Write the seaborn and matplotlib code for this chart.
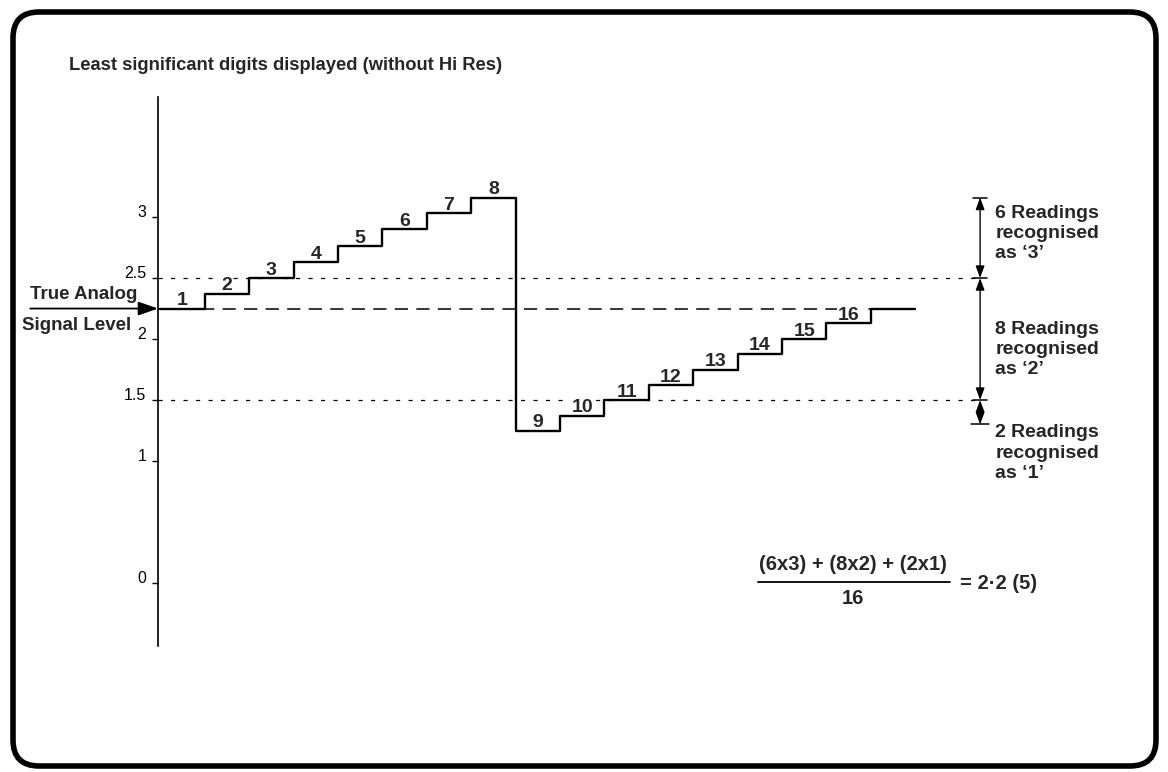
import numpy as np
import pandas as pd
import matplotlib
matplotlib.use('Agg')
import matplotlib.pyplot as plt
from matplotlib.patches import FancyBboxPatch
import seaborn as sns

# readings 1..16 and the level each one sits at
readings = list(range(1, 17))
levels = [2.25, 2.37, 2.5, 2.63, 2.76, 2.9, 3.03, 3.16,
          1.25, 1.37, 1.5, 1.62, 1.75, 1.88, 2.0, 2.13]
final_level = 2.25
true_level = 2.25
thresholds = [2.5, 1.5]
yticks = [0, 1, 1.5, 2, 2.5, 3]
ytick_labels = ['0', '1', '1.5', '2', '2.5', '3']

# how many readings fall in each band and what they read as
band_counts = [6, 8, 2]
band_digits = [3, 2, 1]
band_edges = [3.16, 2.5, 1.5, 1.3]

sns.set_theme(style='white')
plt.rcParams['font.family'] = ['Liberation Sans', 'DejaVu Sans']
plt.rcParams['lines.scale_dashes'] = False

fig = plt.figure(figsize=(11.68, 7.72), dpi=100)
ax = fig.add_axes([158/1168, 126/772, 942/1168, 549/772])
ax.set_xlim(-0.054, 21.16)
ax.set_ylim(-0.516, 3.984)

df = pd.DataFrame({'x': np.arange(0, len(levels) + 2),
                   'y': levels + [final_level, final_level]})
sns.lineplot(data=df, x='x', y='y', drawstyle='steps-post', color='black',
             lw=1.7, estimator=None, ax=ax, zorder=4)

x_arrow = 18.46

# reference lines
ax.plot([ax.get_xlim()[0], 16], [true_level, true_level], color='black',
        lw=1.1, dashes=(9.5, 6), zorder=1)
for t in thresholds:
    ax.plot([ax.get_xlim()[0], x_arrow], [t, t], color='black',
            lw=0.9, dashes=(3, 6), zorder=1)

# step numbers
for r, lv in zip(readings, levels):
    ax.annotate(str(r), xy=(r - 0.5, lv), xytext=(0, 2.5),
                textcoords='offset points', ha='center', va='baseline',
                fontsize=14, fontweight='bold', zorder=3,
                bbox=dict(boxstyle='square,pad=0.05', fc='white', ec='none'))

# axis styling
for s in ['top', 'right', 'bottom']:
    ax.spines[s].set_visible(False)
ax.spines['left'].set_color('black')
ax.spines['left'].set_linewidth(1.2)
ax.set_xticks([])
ax.set_yticks(yticks, ytick_labels)
ax.tick_params(axis='y', length=4.5, width=1, pad=4, labelsize=11.5,
               direction='out', left=True, color='black', labelcolor='black')
for lbl in ax.get_yticklabels():
    lbl.set_verticalalignment('baseline')
ax.set_xlabel('')
ax.set_ylabel('')

# true analog signal arrow
ax.annotate('', xy=(0, true_level), xycoords=('axes fraction', 'data'),
            xytext=(-92, 0), textcoords='offset points',
            arrowprops=dict(arrowstyle='-|>,head_length=1.0,head_width=0.35',
                            mutation_scale=12, color='black', lw=1.3,
                            shrinkA=0, shrinkB=0))
ax.annotate('True Analog', xy=(0, true_level), xycoords=('axes fraction', 'data'),
            xytext=(-53.5, 7), textcoords='offset points', ha='center',
            va='baseline', fontsize=13.5, fontweight='bold', annotation_clip=False)
ax.annotate('Signal Level', xy=(0, true_level), xycoords=('axes fraction', 'data'),
            xytext=(-58.5, -15.5), textcoords='offset points', ha='center',
            va='baseline', fontsize=13.5, fontweight='bold', annotation_clip=False)

# band arrows on the right
for i in range(3):
    ax.annotate('', xy=(x_arrow, band_edges[i]), xytext=(x_arrow, band_edges[i + 1]),
                arrowprops=dict(arrowstyle='<|-|>,head_length=0.6,head_width=0.22',
                                mutation_scale=12, color='black', lw=1.0,
                                shrinkA=0, shrinkB=0))
for e, w in zip(band_edges, [0.15, 0.15, 0.15, 0.2]):
    ax.plot([x_arrow - w, x_arrow + w], [e, e], color='black', lw=1.1)

text_tops = [3.1, 2.15, 1.3]
for n, d, yt in zip(band_counts, band_digits, text_tops):
    ax.text(x_arrow + 0.34, yt, f'{n} Readings\nrecognised\nas \u2018{d}\u2019',
            ha='left', va='top', fontsize=14, fontweight='bold', linespacing=1.25)

# weighted average
total = sum(band_counts)
mean = sum(n * d for n, d in zip(band_counts, band_digits)) / total
num = ' + '.join(f'({n}x{d})' for n, d in zip(band_counts, band_digits))
s = f'{mean:.2f}'
ax.text(15.6, 0.148, num, ha='center', va='center', fontsize=14.5, fontweight='bold')
ax.plot([13.46, 17.78], [0.008, 0.008], color='black', lw=1.3)
ax.text(15.6, -0.123, str(total), ha='center', va='center', fontsize=14.5,
        fontweight='bold')
ax.text(18.0, 0.0, f'= {s[0]}\u00b7{s[2]} ({s[3]})', ha='left', va='center',
        fontsize=14.5, fontweight='bold')

fig.text(69/1168, 1 - 70/772, 'Least significant digits displayed (without Hi Res)',
         ha='left', va='baseline', fontsize=13.2, fontweight='bold')

# rounded frame
fig.patches.append(FancyBboxPatch((0.13, 0.06), 11.43, 7.54,
                                  boxstyle='round,pad=0,rounding_size=0.26',
                                  transform=fig.dpi_scale_trans, fill=False,
                                  lw=4, ec='black'))

fig.savefig('out.png', dpi=100, facecolor='white')
